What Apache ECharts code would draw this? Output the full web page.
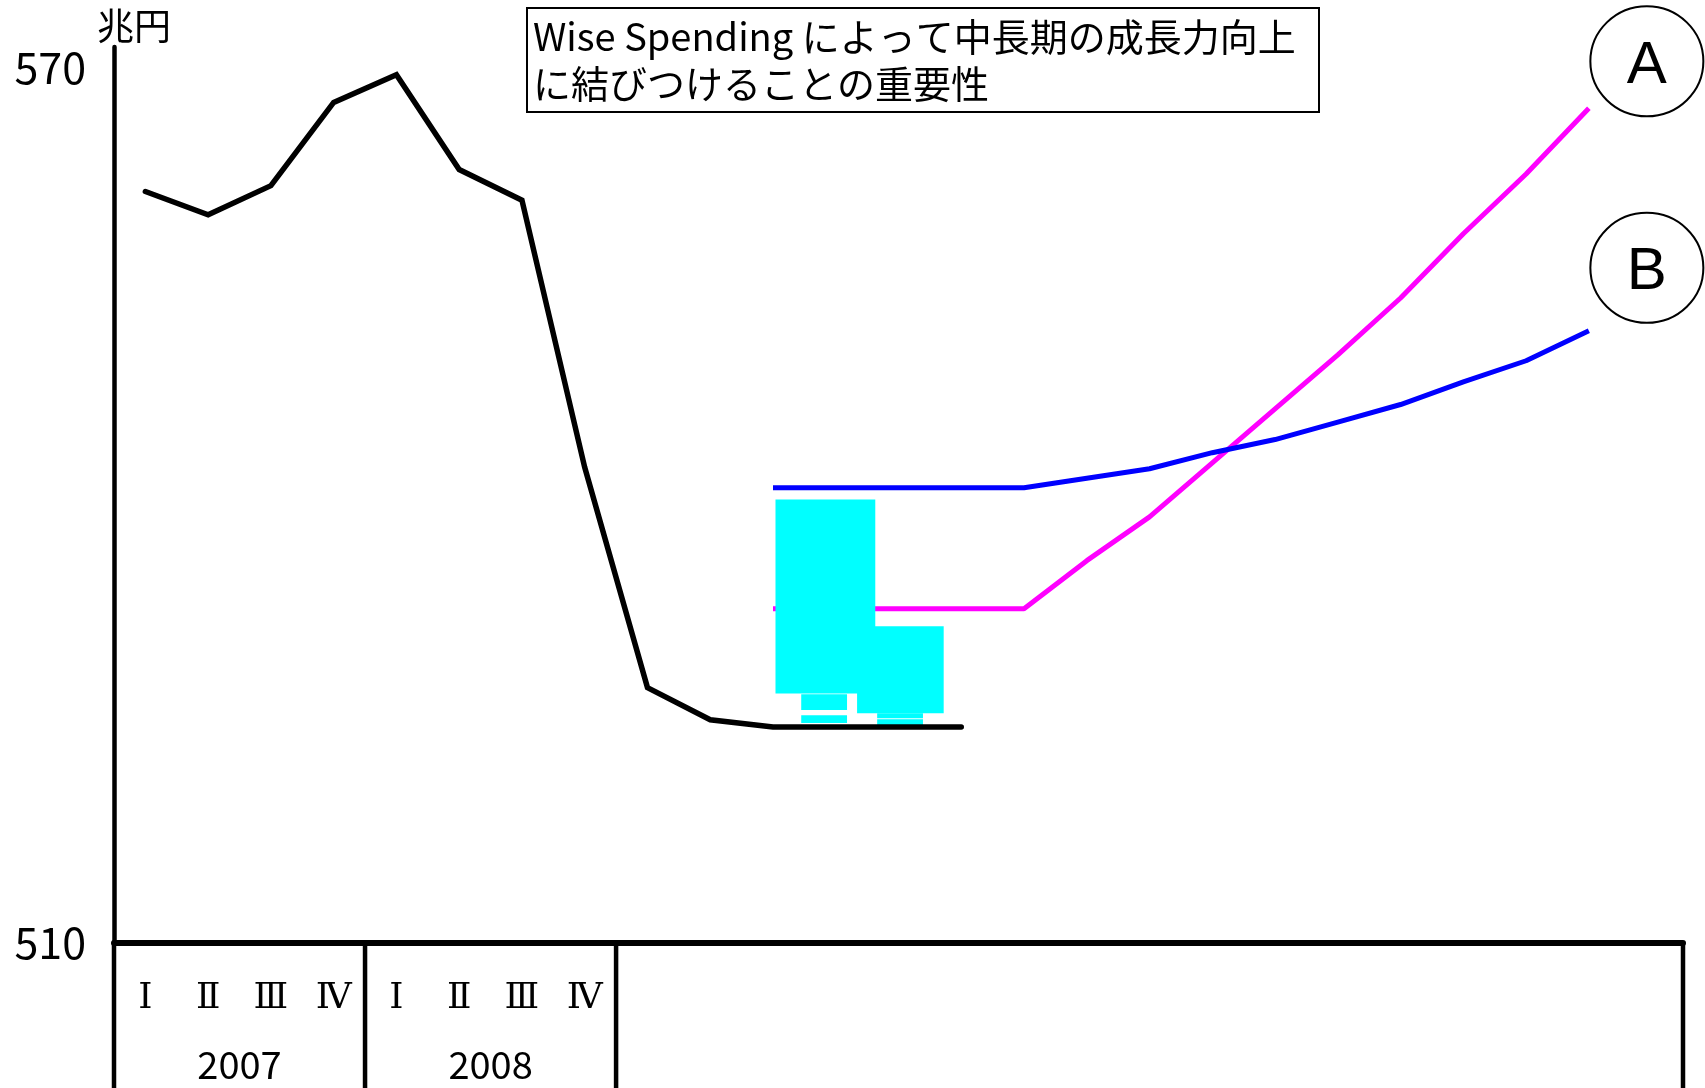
<!DOCTYPE html>
<html><head><meta charset="utf-8">
<script src="https://cdn.jsdelivr.net/npm/echarts@6/dist/echarts.min.js"></script>
<style>html,body{margin:0;padding:0;background:#fff}#c{width:1705px;height:1088px}</style>
</head><body><div id="c"></div>
<script>
const categories = ['2007Q1','2007Q2','2007Q3','2007Q4','2008Q1','2008Q2','2008Q3','2008Q4',
  '2009Q1','2009Q2','2009Q3','2009Q4','2010Q1','2010Q2','2010Q3','2010Q4',
  '2011Q1','2011Q2','2011Q3','2011Q4','2012Q1','2012Q2','2012Q3','2012Q4','2013Q1'];
const quarterLabels = ['Ⅰ','Ⅱ','Ⅲ','Ⅳ','Ⅰ','Ⅱ','Ⅲ','Ⅳ'];
const yearLabels = ['2007','2008'];
const yearBoundaries = [0, 4, 8, 25];
const yTicks = [510, 570];
const titleLines = ['Wise Spending によって中長期の成長力向上', 'に結びつけることの重要性'];
const actual = [561.5, 559.9, 561.9, 567.6, 569.5, 563.0, 560.9, 542.6, 527.5, 525.3, 524.8, 524.8, 524.8, 524.8,
  null, null, null, null, null, null, null, null, null, null, null];
const pathA = [null, null, null, null, null, null, null, null, null, null,
  532.9, 532.9, 532.9, 532.9, 532.9, 536.2, 539.2, 542.9, 546.6, 550.3, 554.2, 558.6, 562.7, 567.2, null];
const pathB = [null, null, null, null, null, null, null, null, null, null,
  541.2, 541.2, 541.2, 541.2, 541.2, 541.85, 542.5, 543.6, 544.5, 545.7, 546.9, 548.45, 549.9, 551.95, null];
// [xStart, xEnd, yLow, yHigh] in quarter units / 兆円
const cyanBlocks = [
  [11.84, 13.22, 525.75, 531.7],
  [10.54, 12.13, 527.1, 540.4],
  [10.95, 11.68, 525.96, 527.05],
  [10.95, 11.68, 525.07, 525.6],
  [12.16, 12.89, 525.4, 525.75],
  [12.16, 12.89, 524.93, 525.34]
];

const FONT = '"Noto Sans CJK JP", "Noto Sans", sans-serif';
const chart = echarts.init(document.getElementById('c'));
chart.setOption({
  animation: false,
  backgroundColor: '#fff',
  grid: {left: 114, right: 22, top: 47, bottom: 145},
  title: {
    text: titleLines.join('\n'), left: 527, top: 8,
    padding: [5, 8, 5, 6], borderColor: '#000', borderWidth: 2, backgroundColor: '#fff',
    textStyle: {fontFamily: FONT, fontSize: 38, lineHeight: 47, fontWeight: 'normal', color: '#000', width: 778}
  },
  xAxis: [
    {type: 'category', data: categories, boundaryGap: true,
     axisLine: {show: true, onZero: false, lineStyle: {color: '#000', width: 6}},
     axisTick: {show: false}, splitLine: {show: false},
     axisLabel: {interval: 0, margin: 38, fontFamily: '"DejaVu Serif", "Liberation Serif", serif', fontSize: 36, color: '#000',
       formatter: (v, i) => quarterLabels[i] || ''}},
    {type: 'value', min: 0, max: 25, interval: 1, position: 'bottom',
     axisLine: {show: false}, axisTick: {show: false}, splitLine: {show: false},
     axisLabel: {margin: 103, fontFamily: FONT, fontSize: 38, color: '#000',
       formatter: v => { const k = (v - 2) / 4; return (Number.isInteger(k) && yearLabels[k]) ? yearLabels[k] : ''; }}}
  ],
  yAxis: {
    type: 'value', min: 510, max: 571.4, interval: 60,
    name: '兆円', nameLocation: 'end', nameGap: 3,
    nameTextStyle: {fontFamily: FONT, fontSize: 37, color: '#000', align: 'center', verticalAlign: 'bottom', padding: [0, 0, 0, 40]},
    axisLine: {show: true, onZero: false, lineStyle: {color: '#000', width: 4.5}},
    axisTick: {show: false}, splitLine: {show: false},
    axisLabel: {margin: 28, fontFamily: FONT, fontSize: 43, color: '#000',
      formatter: v => yTicks.includes(v) ? String(v) : ''}
  },
  series: [
    {type: 'line', name: 'A', data: pathA, symbol: 'none', silent: true, z: 2,
     lineStyle: {color: '#FF00FF', width: 5},
     markPoint: {symbol: 'circle', symbolSize: [113, 110], symbolOffset: [58, -47], silent: true,
       itemStyle: {color: '#fff', borderColor: '#000', borderWidth: 2},
       label: {show: true, formatter: 'A', fontFamily: '"Liberation Sans", sans-serif', fontSize: 60, color: '#000', offset: [0, 5]},
       data: [{coord: [categories[23], pathA[23]]}]}},
    {type: 'custom', name: 'blocks', xAxisIndex: 1, yAxisIndex: 0, data: cyanBlocks, silent: true, z: 3,
     encode: {x: [0, 1], y: [2, 3]},
     renderItem: (params, api) => {
       const a = api.coord([api.value(0), api.value(3)]);
       const b = api.coord([api.value(1), api.value(2)]);
       return {type: 'rect', shape: {x: a[0], y: a[1], width: b[0] - a[0], height: b[1] - a[1]}, style: {fill: '#00FFFF'}};
     }},
    {type: 'line', name: 'B', data: pathB, symbol: 'none', silent: true, z: 4,
     lineStyle: {color: '#0000FF', width: 5},
     markPoint: {symbol: 'circle', symbolSize: [113, 110], symbolOffset: [58, -63], silent: true,
       itemStyle: {color: '#fff', borderColor: '#000', borderWidth: 2},
       label: {show: true, formatter: 'B', fontFamily: '"Liberation Sans", sans-serif', fontSize: 60, color: '#000', offset: [0, 5]},
       data: [{coord: [categories[23], pathB[23]]}]}},
    {type: 'line', name: 'actual', data: actual, symbol: 'none', silent: true, z: 5,
     lineStyle: {color: '#000', width: 5.5, cap: 'round', join: 'miter'}},
    {type: 'custom', name: 'yearBox', xAxisIndex: 1, yAxisIndex: 0, clip: false, silent: true, z: 6,
     data: yearBoundaries.map(b => [b, 510]), encode: {x: 0, y: 1},
     renderItem: (params, api) => {
       const p = api.coord([api.value(0), api.value(1)]);
       return {type: 'line', shape: {x1: p[0], y1: p[1], x2: p[0], y2: api.getHeight()}, style: {stroke: '#000', lineWidth: 4.5}};
     }}
  ]
});
</script>
</body></html>
